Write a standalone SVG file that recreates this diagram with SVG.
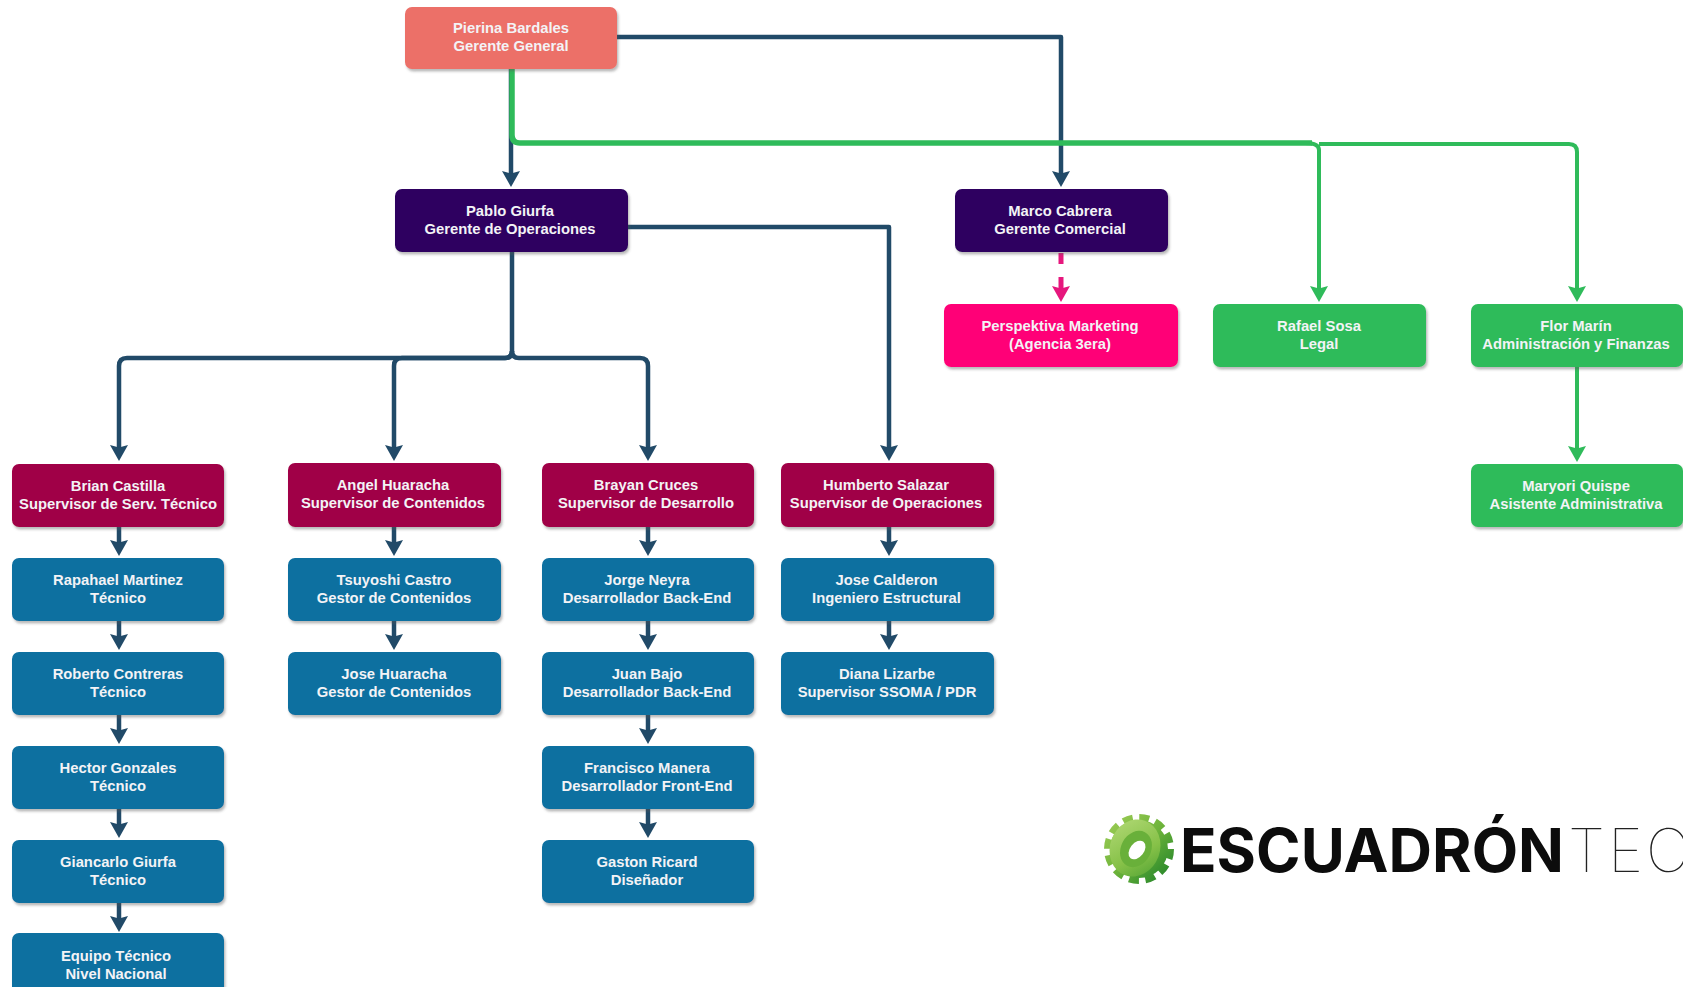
<svg xmlns="http://www.w3.org/2000/svg" width="1683" height="987" viewBox="0 0 1683 987">
<style>
.n rect{filter:url(#sh)}
.n text{font-family:"Liberation Sans",Arial,sans-serif;font-weight:700;font-size:14.8px;fill:#f3f3f6;text-anchor:middle}
.red rect{fill:#ec6f68}.pur rect{fill:#2e0560}.sup rect{fill:#a00347}.blu rect{fill:#0f6fa0}.pnk rect{fill:#ff0577}.grn rect{fill:#2fbb5a}
.c{fill:none;stroke-linejoin:round}
.d{stroke:#214a68;stroke-width:4.500}
.g{stroke:#2fbb5a;stroke-width:4;marker-end:url(#ag)}
.p{stroke:#e6177d;stroke-width:5}
</style>
<defs>
<filter id="sh" x="-5%" y="-10%" width="110%" height="125%"><feDropShadow dx="1.5" dy="2.5" stdDeviation="1.2" flood-color="#555" flood-opacity="0.4"/></filter>
<marker id="ad" markerUnits="userSpaceOnUse" markerWidth="18" markerHeight="18" viewBox="0 0 18 18" refX="8" refY="9" orient="auto"><path d="M0 0L2.500 9L0 18L16 9Z" fill="#214a68"/></marker>
<marker id="ag" markerUnits="userSpaceOnUse" markerWidth="18" markerHeight="18" viewBox="0 0 18 18" refX="8" refY="9" orient="auto"><path d="M0 0L2.500 9L0 18L16 9Z" fill="#2fbb5a"/></marker>
<marker id="ap" markerUnits="userSpaceOnUse" markerWidth="18" markerHeight="18" viewBox="0 0 18 18" refX="8" refY="9" orient="auto"><path d="M0 0L2.500 9L0 18L16 9Z" fill="#e6177d"/></marker>
<linearGradient id="gear" x1="0" y1="0" x2="1" y2="1"><stop offset="0" stop-color="#9ccc55"/><stop offset="0.5" stop-color="#6db33a"/><stop offset="1" stop-color="#24852a"/></linearGradient>
<linearGradient id="gear2" x1="0" y1="0" x2="1" y2="1"><stop offset="0" stop-color="#b4da78"/><stop offset="0.6" stop-color="#86c148"/><stop offset="1" stop-color="#4fa233"/></linearGradient>
</defs>
<rect width="1683" height="987" fill="#fff"/>
<g id="connectors">
<path class="c d" d="M617 37H1061V179" marker-end="url(#ad)"/>
<path class="c d" d="M511 68V179" marker-end="url(#ad)"/>
<path class="c d" d="M628 227H889V453" marker-end="url(#ad)"/>
<path class="c d" d="M512 251V351Q512 358 505 358H127Q119 358 119 366V453" marker-end="url(#ad)"/>
<path class="c d" d="M512 351Q512 358 505 358H402Q394 358 394 366V453" marker-end="url(#ad)"/>
<path class="c d" d="M512 351Q512 358 519 358H640Q648 358 648 366V453" marker-end="url(#ad)"/>
<path class="c d" d="M119 527V548" marker-end="url(#ad)"/>
<path class="c d" d="M119 621V642" marker-end="url(#ad)"/>
<path class="c d" d="M119 714V736" marker-end="url(#ad)"/>
<path class="c d" d="M119 808V830" marker-end="url(#ad)"/>
<path class="c d" d="M119 902V924" marker-end="url(#ad)"/>
<path class="c d" d="M394 527V548" marker-end="url(#ad)"/>
<path class="c d" d="M394 621V642" marker-end="url(#ad)"/>
<path class="c d" d="M648 527V548" marker-end="url(#ad)"/>
<path class="c d" d="M648 620V642" marker-end="url(#ad)"/>
<path class="c d" d="M648 714V736" marker-end="url(#ad)"/>
<path class="c d" d="M648 808V830" marker-end="url(#ad)"/>
<path class="c d" d="M889 527V548" marker-end="url(#ad)"/>
<path class="c d" d="M889 620V642" marker-end="url(#ad)"/>
<path class="c p" d="M1061 253V264"/>
<path class="c p" d="M1061 277V294" marker-end="url(#ap)"/>
<path class="c g" d="M1319 144H1569Q1577 144 1577 152V294"/>
<path class="c g" d="M1305 143Q1319 143 1319 150V294"/>
<path class="c" stroke="#2fbb5a" stroke-width="5.500" d="M512 68V135Q512 143 520 143H1312"/>
<path class="c g" d="M1577 366V454"/>
</g>
<g id="n-pierina" class="n red"><rect x="405" y="7" width="212" height="62" rx="7"/><text x="511" y="33">Pierina Bardales</text><text x="511" y="51">Gerente General</text></g>
<g id="n-pablo" class="n pur"><rect x="395" y="189" width="233" height="63" rx="7"/><text x="510" y="216">Pablo Giurfa</text><text x="510" y="233.500">Gerente de Operaciones</text></g>
<g id="n-marco" class="n pur"><rect x="955" y="189" width="213" height="63" rx="7"/><text x="1060" y="216">Marco Cabrera</text><text x="1060" y="233.500">Gerente Comercial</text></g>
<g id="n-perspektiva" class="n pnk"><rect x="944" y="304" width="234" height="63" rx="7"/><text x="1060" y="331">Perspektiva Marketing</text><text x="1060" y="348.500">(Agencia 3era)</text></g>
<g id="n-rafael" class="n grn"><rect x="1213" y="304" width="213" height="63" rx="7"/><text x="1319" y="331">Rafael Sosa</text><text x="1319" y="348.500">Legal</text></g>
<g id="n-flor" class="n grn"><rect x="1471" y="304" width="212" height="63" rx="7"/><text x="1576" y="331">Flor Marín</text><text x="1576" y="348.500">Administración y Finanzas</text></g>
<g id="n-maryori" class="n grn"><rect x="1471" y="464" width="212" height="63" rx="7"/><text x="1576" y="491">Maryori Quispe</text><text x="1576" y="508.500">Asistente Administrativa</text></g>
<g id="n-brian" class="n sup"><rect x="12" y="464" width="212" height="63" rx="7"/><text x="118" y="491">Brian Castilla</text><text x="118" y="508.500">Supervisor de Serv. Técnico</text></g>
<g id="n-angel" class="n sup"><rect x="288" y="463" width="213" height="64" rx="7"/><text x="393" y="490">Angel Huaracha</text><text x="393" y="507.500">Supervisor de Contenidos</text></g>
<g id="n-brayan" class="n sup"><rect x="542" y="463" width="212" height="64" rx="7"/><text x="646" y="490">Brayan Cruces</text><text x="646" y="507.500">Supervisor de Desarrollo</text></g>
<g id="n-humberto" class="n sup"><rect x="781" y="463" width="213" height="64" rx="7"/><text x="886" y="490">Humberto Salazar</text><text x="886" y="507.500">Supervisor de Operaciones</text></g>
<g id="n-rapahael" class="n blu"><rect x="12" y="558" width="212" height="63" rx="7"/><text x="118" y="585">Rapahael Martinez</text><text x="118" y="602.500">Técnico</text></g>
<g id="n-roberto" class="n blu"><rect x="12" y="652" width="212" height="63" rx="7"/><text x="118" y="679">Roberto Contreras</text><text x="118" y="696.500">Técnico</text></g>
<g id="n-hector" class="n blu"><rect x="12" y="746" width="212" height="63" rx="7"/><text x="118" y="773">Hector Gonzales</text><text x="118" y="790.500">Técnico</text></g>
<g id="n-giancarlo" class="n blu"><rect x="12" y="840" width="212" height="63" rx="7"/><text x="118" y="867">Giancarlo Giurfa</text><text x="118" y="884.500">Técnico</text></g>
<g id="n-equipo" class="n blu"><rect x="12" y="933" width="212" height="70" rx="7"/><text x="116" y="961">Equipo Técnico</text><text x="116" y="978.500">Nivel Nacional</text></g>
<g id="n-tsuyoshi" class="n blu"><rect x="288" y="558" width="213" height="63" rx="7"/><text x="394" y="585">Tsuyoshi Castro</text><text x="394" y="602.500">Gestor de Contenidos</text></g>
<g id="n-josehuaracha" class="n blu"><rect x="288" y="652" width="213" height="63" rx="7"/><text x="394" y="679">Jose Huaracha</text><text x="394" y="696.500">Gestor de Contenidos</text></g>
<g id="n-jorge" class="n blu"><rect x="542" y="558" width="212" height="63" rx="7"/><text x="647" y="585">Jorge Neyra</text><text x="647" y="602.500">Desarrollador Back-End</text></g>
<g id="n-juan" class="n blu"><rect x="542" y="652" width="212" height="63" rx="7"/><text x="647" y="679">Juan Bajo</text><text x="647" y="696.500">Desarrollador Back-End</text></g>
<g id="n-francisco" class="n blu"><rect x="542" y="746" width="212" height="63" rx="7"/><text x="647" y="773">Francisco Manera</text><text x="647" y="790.500">Desarrollador Front-End</text></g>
<g id="n-gaston" class="n blu"><rect x="542" y="840" width="212" height="63" rx="7"/><text x="647" y="867">Gaston Ricard</text><text x="647" y="884.500">Diseñador</text></g>
<g id="n-josecalderon" class="n blu"><rect x="781" y="558" width="213" height="63" rx="7"/><text x="886.500" y="585">Jose Calderon</text><text x="886.500" y="602.500">Ingeniero Estructural</text></g>
<g id="n-diana" class="n blu"><rect x="781" y="652" width="213" height="63" rx="7"/><text x="887" y="679">Diana Lizarbe</text><text x="887" y="696.500">Supervisor SSOMA / PDR</text></g>
<g id="logo">
<circle cx="1139" cy="849" r="30" fill="none" stroke="url(#gear)" stroke-width="10" stroke-dasharray="9.500 6.210"/>
<circle cx="1139" cy="849" r="29" fill="url(#gear)"/>
<ellipse cx="1135" cy="848" rx="25" ry="29" transform="rotate(20 1135 848)" fill="url(#gear2)"/>
<ellipse cx="1136" cy="849" rx="15" ry="19" transform="rotate(28 1136 849)" fill="#69b03a"/>
<ellipse cx="1137" cy="850" rx="7" ry="10.500" transform="rotate(38 1137 850)" fill="#fff"/>
<text x="1180" y="872" font-family="Inter,'Liberation Sans',sans-serif" font-weight="700" font-size="60" fill="#0c0c0c" textLength="384" lengthAdjust="spacingAndGlyphs">ESCUADRÓN</text>
<text x="1568" y="872" font-family="Inter,'Liberation Sans',sans-serif" font-weight="100" font-size="60" letter-spacing="3" fill="#222">TEC</text>
</g>
</svg>
